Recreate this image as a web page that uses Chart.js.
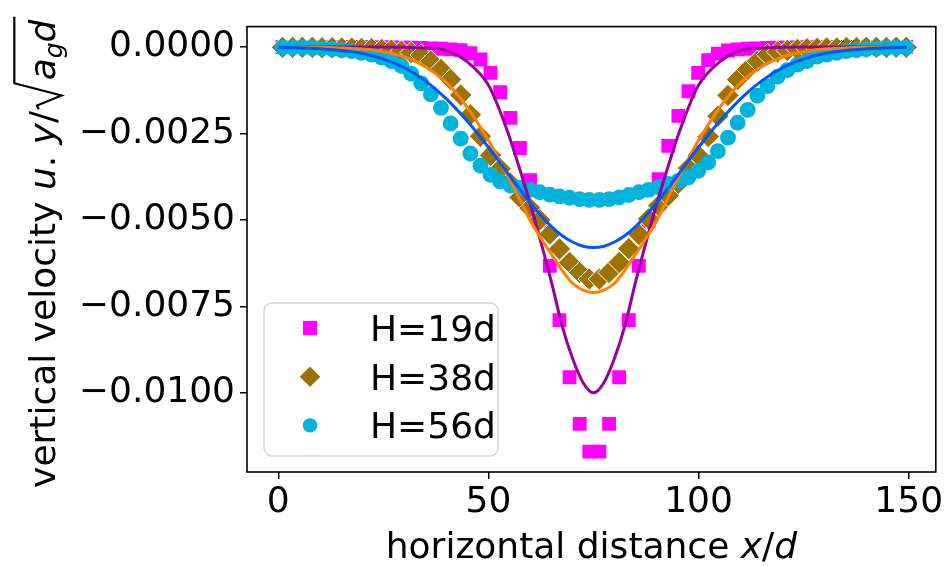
<!DOCTYPE html>
<html><head><meta charset="utf-8">
<script src="https://cdn.jsdelivr.net/npm/chart.js@4.4.1/dist/chart.umd.min.js"></script>
<style>html,body{margin:0;padding:0;background:#fff;} canvas{display:block;}</style>
</head><body>
<canvas id="c" width="948" height="567"></canvas>
<script>
// ---------- data ----------
const markerX = [1.0,3.4,5.7,8.1,10.4,12.8,15.1,17.5,19.8,22.2,24.6,26.9,29.3,31.6,34.0,36.3,
  38.7,41.0,43.4,45.7,48.1,50.5,52.8,55.2,57.5,59.9,62.2,64.6,66.9,69.3,71.7,74.0,
  76.4,78.7,81.1,83.4,85.8,88.1,90.5,92.8,95.2,97.6,99.9,102.3,104.6,107.0,109.3,111.7,
  114.0,116.4,118.8,121.1,123.5,125.8,128.2,130.5,132.9,135.2,137.6,139.9,142.3,144.7,147.0,149.4];
const h19 = [0,0,0,0,0,0,0,0,0,-0.00001,-0.00001,-0.00001,-0.00002,-0.00002,-0.00003,-0.00004,
  -0.00005,-0.00007,-0.00009,-0.00018,-0.00036,-0.00075,-0.00131,-0.00205,-0.00292,-0.00385,-0.00504,-0.00633,-0.00790,-0.00955,-0.01090,-0.01170,
  -0.01170,-0.01090,-0.00955,-0.00790,-0.00633,-0.00504,-0.00382,-0.00286,-0.00199,-0.00128,-0.00075,-0.00038,-0.00019,-0.00010,-0.00007,-0.00005,
  -0.00004,-0.00003,-0.00002,-0.00002,-0.00001,-0.00001,-0.00001,0,0,0,0,0,0,0,0,0];
const h38 = [-0.00001,-0.00001,-0.00001,-0.00001,-0.00002,-0.00002,-0.00003,-0.00003,-0.00004,-0.00005,-0.00007,-0.00009,-0.00012,-0.00016,-0.00023,-0.00041,
  -0.00065,-0.00094,-0.00139,-0.00196,-0.00258,-0.00313,-0.00352,-0.00394,-0.00435,-0.00466,-0.00500,-0.00541,-0.00584,-0.00623,-0.00652,-0.00671,
  -0.00671,-0.00652,-0.00623,-0.00583,-0.00542,-0.00497,-0.00459,-0.00430,-0.00394,-0.00350,-0.00313,-0.00259,-0.00200,-0.00140,-0.00094,-0.00065,
  -0.00041,-0.00022,-0.00014,-0.00010,-0.00007,-0.00005,-0.00004,-0.00003,-0.00003,-0.00002,-0.00002,-0.00001,-0.00001,-0.00001,-0.00001,-0.00001];
const h56 = [-0.00002,-0.00002,-0.00002,-0.00003,-0.00004,-0.00006,-0.00009,-0.00012,-0.00017,-0.00022,-0.00031,-0.00041,-0.00055,-0.00077,-0.00105,-0.00137,
  -0.00176,-0.00221,-0.00265,-0.00308,-0.00343,-0.00370,-0.00389,-0.00400,-0.00407,-0.00413,-0.00420,-0.00427,-0.00432,-0.00436,-0.00440,-0.00442,
  -0.00442,-0.00440,-0.00435,-0.00428,-0.00420,-0.00413,-0.00405,-0.00396,-0.00387,-0.00377,-0.00358,-0.00334,-0.00301,-0.00262,-0.00219,-0.00182,
  -0.00141,-0.00113,-0.00086,-0.00067,-0.00051,-0.00041,-0.00028,-0.00022,-0.00017,-0.00012,-0.00009,-0.00006,-0.00004,-0.00003,-0.00002,-0.00002];
const fitX = [0,5,10,15,20,25,30,35,40,45,50,52.5,55,57.5,60,62.5,65,67.5,70,72.5,75,
  77.5,80,82.5,85,87.5,90,92.5,95,97.5,100,105,110,115,120,125,130,135,140,145,149.5];
const fit19 = [0,0,0,0,0,0,-0.00001,-0.00003,-0.00010,-0.00043,-0.00110,-0.00178,-0.00260,-0.00355,-0.00455,-0.00565,-0.00680,-0.00805,-0.00900,-0.00970,-0.01000,
  -0.00970,-0.00900,-0.00805,-0.00680,-0.00565,-0.00455,-0.00355,-0.00260,-0.00178,-0.00110,-0.00043,-0.00010,-0.00003,-0.00001,0,0,0,0,0,0];
const fit38 = [0,0,-0.00001,-0.00003,-0.00006,-0.00014,-0.00029,-0.00057,-0.00103,-0.00175,-0.00270,-0.00325,-0.00383,-0.00442,-0.00503,-0.00553,-0.00600,-0.00645,-0.00683,-0.00703,-0.00710,
  -0.00703,-0.00683,-0.00645,-0.00600,-0.00553,-0.00503,-0.00442,-0.00383,-0.00325,-0.00270,-0.00175,-0.00103,-0.00057,-0.00029,-0.00014,-0.00006,-0.00003,-0.00001,0,0];
const fit56 = [-0.00001,-0.00002,-0.00005,-0.00010,-0.00019,-0.00035,-0.00060,-0.00098,-0.00150,-0.00215,-0.00290,-0.00330,-0.00372,-0.00412,-0.00451,-0.00487,-0.00519,-0.00545,-0.00564,-0.00576,-0.00580,
  -0.00576,-0.00564,-0.00545,-0.00519,-0.00487,-0.00451,-0.00412,-0.00372,-0.00330,-0.00290,-0.00215,-0.00150,-0.00098,-0.00060,-0.00035,-0.00019,-0.00010,-0.00005,-0.00002,-0.00001];
const seriesLabels = ['H=19d','H=38d','H=56d'];
const xTicks = [0,50,100,150];
const xTickLabels = ['0','50','100','150'];
const yTicks = [-0.01,-0.0075,-0.005,-0.0025,0];
const yTickLabels = ['\u22120.0100','\u22120.0075','\u22120.0050','\u22120.0025','0.0000'];

// ---------- styling ----------
const FONT = '"DejaVu Sans"';
const EM = 36;
const C_SQ = '#ff00ff', C_DI = '#9e7200', C_CI = '#00b3da';
const C_L19 = '#990099', C_L38 = '#ff8000', C_L56 = '#0055ff';
const pts = (xs, ys) => xs.map((x, i) => ({x: x, y: ys[i]}));

const markerSets = [
  {label: seriesLabels[0], data: pts(markerX, h19), pointStyle: 'rect', pointRadius: 9.8,
   backgroundColor: C_SQ, borderWidth: 0, pointBorderWidth: 0, showLine: false, order: 5},
  {label: seriesLabels[1], data: pts(markerX, h38), pointStyle: 'rectRot', pointRadius: 11.2,
   backgroundColor: C_DI, borderColor: '#ffffff', pointBorderWidth: 1, showLine: false, order: 4},
  {label: seriesLabels[2], data: pts(markerX, h56), pointStyle: 'circle', pointRadius: 7.9,
   backgroundColor: C_CI, borderWidth: 0, pointBorderWidth: 0, showLine: false, order: 3}
];
const lineSets = [
  {label: 'fit19', data: pts(fitX, fit19), showLine: true, pointRadius: 0, borderColor: C_L19, borderWidth: 3, cubicInterpolationMode: 'monotone', order: 2},
  {label: 'fit38', data: pts(fitX, fit38), showLine: true, pointRadius: 0, borderColor: C_L38, borderWidth: 3, cubicInterpolationMode: 'monotone', order: 1},
  {label: 'fit56', data: pts(fitX, fit56), showLine: true, pointRadius: 0, borderColor: C_L56, borderWidth: 3, cubicInterpolationMode: 'monotone', order: 0}
];

function runFont(r) { return (r.it ? 'italic ' : '') + Math.round(EM * (r.s || 1)) + 'px ' + FONT; }
function measureRuns(ctx, runs) { let w = 0; for (const r of runs) { ctx.font = runFont(r); w += ctx.measureText(r.t).width; } return w; }
function drawRuns(ctx, runs, x, y) { for (const r of runs) { ctx.font = runFont(r); ctx.fillText(r.t, x, y + (r.dy || 0)); x += ctx.measureText(r.t).width; } return x; }

const framePlugin = {
  id: 'frame',
  afterDatasetsDraw(chart) {
    const {ctx, chartArea: a} = chart;
    ctx.save();
    ctx.strokeStyle = '#000'; ctx.lineWidth = 1.6;
    ctx.strokeRect(a.left, a.top, a.right - a.left, a.bottom - a.top);
    ctx.restore();
  }
};

const textPlugin = {
  id: 'texts',
  afterDraw(chart) {
    const {ctx, chartArea: a} = chart;
    ctx.save();
    ctx.fillStyle = '#000'; ctx.strokeStyle = '#000';
    ctx.textBaseline = 'alphabetic'; ctx.textAlign = 'left';
    // x label
    const xr = [{t: 'horizontal distance '}, {t: 'x', it: true}, {t: '/'}, {t: 'd', it: true}];
    const xw = measureRuns(ctx, xr);
    drawRuns(ctx, xr, (a.left + a.right) / 2 - xw / 2, 558);
    // y label (rotated)
    const pre = [{t: 'vertical velocity '}, {t: 'u', it: true}, {t: '. '}, {t: 'y', it: true}, {t: '/'}];
    const rad = [{t: 'a', it: true}, {t: 'g', it: true, s: 0.7, dy: 0.2 * EM}, {t: 'd', it: true}];
    const wPre = measureRuns(ctx, pre), wRad = measureRuns(ctx, rad);
    const radW = 0.80 * EM;
    const total = wPre + 0.05 * EM + radW + wRad + 0.08 * EM;
    ctx.translate(55, (a.top + a.bottom) / 2 + 3);
    ctx.rotate(-Math.PI / 2);
    let x = -total / 2;
    x = drawRuns(ctx, pre, x, 0);
    const x0 = x + 0.05 * EM;
    ctx.beginPath();
    ctx.moveTo(x0, -0.45 * EM);
    ctx.lineTo(x0 + 0.10 * EM, -0.50 * EM);
    ctx.lineTo(x0 + 0.38 * EM, 0.18 * EM);
    ctx.lineTo(x0 + 0.72 * EM, -1.13 * EM);
    ctx.lineTo(x0 + radW + wRad + 0.08 * EM, -1.13 * EM);
    ctx.lineWidth = 2.2; ctx.lineJoin = 'miter';
    ctx.stroke();
    drawRuns(ctx, rad, x0 + radW, 0);
    ctx.restore();

    // legend
    ctx.save();
    const lx = a.left + 17, lw = 234, lh = 153;
    const ly = a.bottom - 16 - lh;
    const r = 8;
    ctx.beginPath();
    ctx.moveTo(lx + r, ly); ctx.lineTo(lx + lw - r, ly); ctx.arcTo(lx + lw, ly, lx + lw, ly + r, r);
    ctx.lineTo(lx + lw, ly + lh - r); ctx.arcTo(lx + lw, ly + lh, lx + lw - r, ly + lh, r);
    ctx.lineTo(lx + r, ly + lh); ctx.arcTo(lx, ly + lh, lx, ly + lh - r, r);
    ctx.lineTo(lx, ly + r); ctx.arcTo(lx, ly, lx + r, ly, r); ctx.closePath();
    ctx.fillStyle = 'rgba(255,255,255,0.8)'; ctx.fill();
    ctx.strokeStyle = '#d4d4d4'; ctx.lineWidth = 1.5; ctx.stroke();
    const legendRadius = [10, 10.3, 7.2];
    markerSets.forEach((ds, i) => {
      const cy = ly + 25 + i * 48.7;
      ctx.fillStyle = ds.backgroundColor;
      Chart.helpers.drawPoint(ctx, {pointStyle: ds.pointStyle, radius: legendRadius[i], rotation: 0, borderWidth: 0}, lx + 46, cy);
      ctx.fillStyle = '#000';
      ctx.font = EM + 'px ' + FONT;
      ctx.textBaseline = 'alphabetic';
      ctx.fillText(ds.label, lx + 106, cy + 13);
    });
    ctx.restore();
  }
};

const tickFont = {family: FONT, size: EM};
new Chart(document.getElementById('c'), {
  type: 'scatter',
  data: {datasets: [...lineSets, ...markerSets]},
  options: {
    responsive: false, animation: false, devicePixelRatio: 1,
    layout: {padding: {left: 0, right: 10, top: 23, bottom: 0}},
    plugins: {legend: {display: false}, tooltip: {enabled: false}},
    scales: {
      x: {
        type: 'linear', min: -7.45, max: 156.45,
        afterBuildTicks: s => { s.ticks = xTicks.map(v => ({value: v})); },
        afterFit: s => { s.height = 95; },
        grid: {drawOnChartArea: false, drawTicks: true, tickLength: 7, color: '#000', lineWidth: 1.5},
        border: {display: false},
        ticks: {font: tickFont, color: '#000', padding: 2, maxRotation: 0, autoSkip: false,
          callback: v => xTickLabels[xTicks.indexOf(v)]}
      },
      y: {
        type: 'linear', min: -0.01229, max: 0.00059,
        afterBuildTicks: s => { s.ticks = yTicks.map(v => ({value: v})); },
        afterFit: s => { s.width = 247; },
        grid: {drawOnChartArea: false, drawTicks: true, tickLength: 7, color: '#000', lineWidth: 1.5},
        border: {display: false},
        ticks: {font: tickFont, color: '#000', padding: 5, autoSkip: false,
          callback: v => { const k = yTicks.findIndex(t => Math.abs(t - v) < 1e-9); return k >= 0 ? yTickLabels[k] : ''; }}
      }
    }
  },
  plugins: [framePlugin, textPlugin]
});
</script>
</body></html>
